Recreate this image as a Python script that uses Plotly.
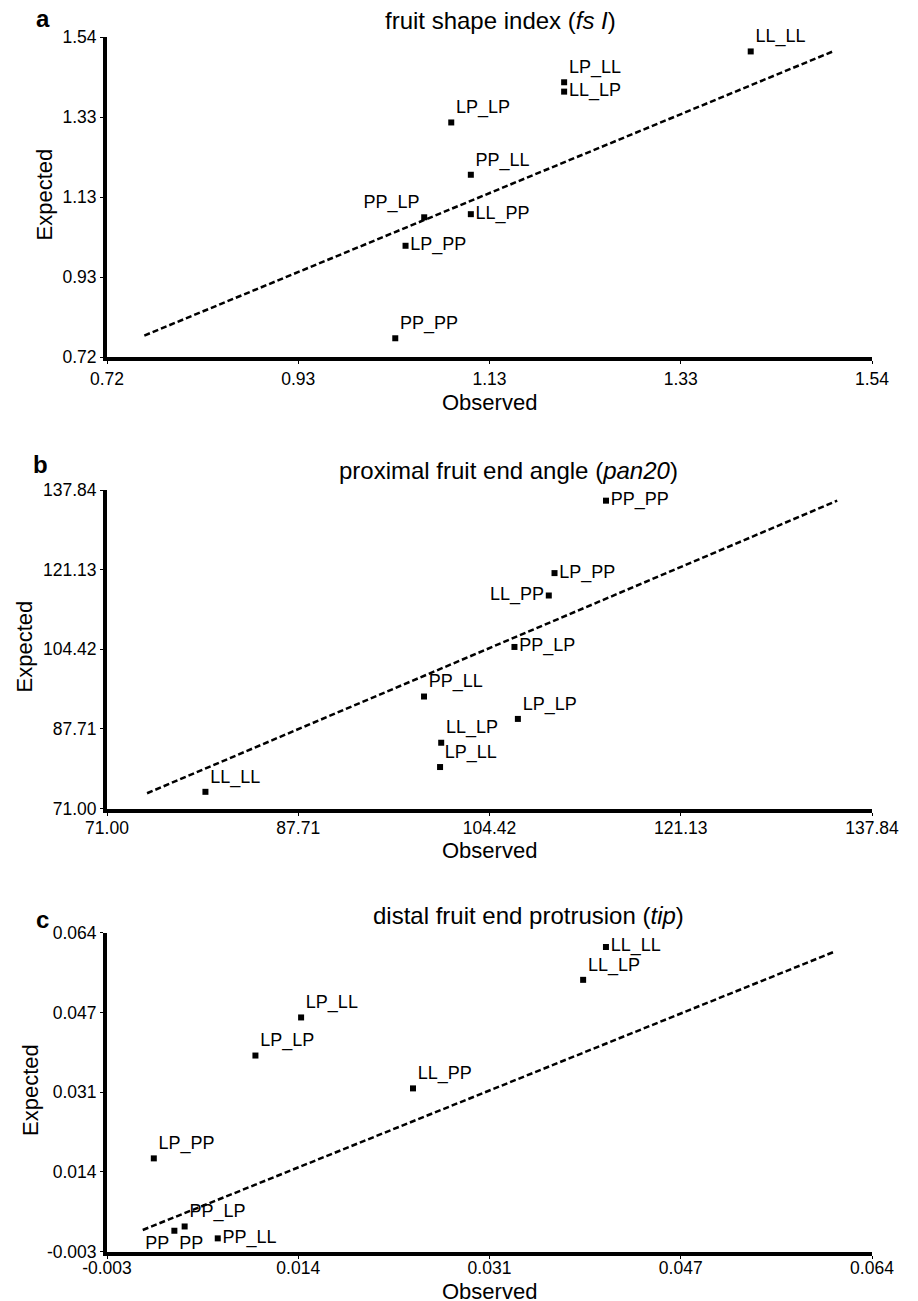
import plotly.graph_objects as go

FONT = "Liberation Sans, Arial, sans-serif"
W, H = 918, 1301
PAGE_OFFSET = 8  # default body margin of the html page

# ---------------- data ----------------
# panel a: fruit shape index
genotypes_a = ["PP_PP", "PP_LP", "LP_PP", "LP_LP", "PP_LL", "LL_PP", "LP_LL", "LL_LP", "LL_LL"]
observed_a = [1.029, 1.060, 1.040, 1.089, 1.110, 1.110, 1.210, 1.210, 1.410]
expected_a = [0.768, 1.078, 1.005, 1.321, 1.187, 1.086, 1.424, 1.400, 1.503]
tickvals_a = [0.72, 0.925, 1.13, 1.335, 1.54]
ticktext_a = ["0.72", "0.93", "1.13", "1.33", "1.54"]
line_obs_a = [0.760, 1.498]
line_exp_a = [0.775, 1.503]

# panel b: proximal fruit end angle
genotypes_b = ["LL_LL", "PP_LL", "LL_LP", "LP_LL", "LP_LP", "PP_LP", "LL_PP", "LP_PP", "PP_PP"]
observed_b = [79.6, 98.7, 100.2, 100.1, 106.9, 106.6, 109.6, 110.1, 114.6]
expected_b = [74.5, 94.5, 84.8, 79.7, 89.8, 104.9, 115.7, 120.4, 135.6]
tickvals_b = [71.00, 87.71, 104.42, 121.13, 137.84]
ticktext_b = ["71.00", "87.71", "104.42", "121.13", "137.84"]
line_obs_b = [74.5, 134.8]
line_exp_b = [74.2, 135.6]

# panel c: distal fruit end protrusion
genotypes_c = ["LP_PP", "PP_PP", "PP_LP", "PP_LL", "LP_LP", "LP_LL", "LL_PP", "LL_LP", "LL_LL"]
observed_c = [0.0011, 0.0029, 0.0038, 0.0067, 0.0100, 0.0140, 0.0238, 0.0387, 0.0407]
expected_c = [0.0166, 0.0014, 0.0023, -0.0002, 0.0382, 0.0462, 0.0313, 0.0541, 0.0610]
tickvals_c = [-0.003, 0.01375, 0.0305, 0.04725, 0.064]
ticktext_c = ["-0.003", "0.014", "0.031", "0.047", "0.064"]
line_obs_c = [0.00013, 0.0607]
line_exp_c = [0.00156, 0.0600]

titles = ["fruit shape index (<i>fs I</i>)",
          "proximal fruit end angle (<i>pan20</i>)",
          "distal fruit end protrusion (<i>tip</i>)"]
panel_letters = ["a", "b", "c"]

# ---------------- label placement (style) ----------------
pos_a = {"PP_PP": "top right", "PP_LP": "top left", "LP_PP": "middle right",
         "LP_LP": "top right", "PP_LL": "top right", "LL_PP": "middle right",
         "LP_LL": "top right", "LL_LP": "middle right", "LL_LL": "top right"}
pos_b = {"LL_LL": "top right", "PP_LL": "top right", "LL_LP": "top right",
         "LP_LL": "top right", "LP_LP": "top right", "PP_LP": "middle right",
         "LL_PP": "middle left", "LP_PP": "middle right", "PP_PP": "middle right"}
pos_c = {"LP_PP": "top right", "PP_PP": "bottom center", "PP_LP": "top right",
         "PP_LL": "middle right", "LP_LP": "top right", "LP_LL": "top right",
         "LL_PP": "top right", "LL_LP": "top right", "LL_LL": "middle right"}


def px_x(p):
    return (p - PAGE_OFFSET) / W


def px_y(p):
    return 1 - (p - PAGE_OFFSET) / H


x_dom = [px_x(107), px_x(872)]
y_doms = [[px_y(357), px_y(37)], [px_y(808.5), px_y(490)], [px_y(1251.7), px_y(932.7)]]
x_label_standoff = [0, -3, -6]

panels = [
    (genotypes_a, observed_a, expected_a, tickvals_a, ticktext_a, line_obs_a, line_exp_a, pos_a),
    (genotypes_b, observed_b, expected_b, tickvals_b, ticktext_b, line_obs_b, line_exp_b, pos_b),
    (genotypes_c, observed_c, expected_c, tickvals_c, ticktext_c, line_obs_c, line_exp_c, pos_c),
]

fig = go.Figure()
for i, (gen, obs, exp, tv, tt, lo, le, pos) in enumerate(panels):
    n = "" if i == 0 else str(i + 1)
    xa, ya = "x" + n, "y" + n
    fig.add_trace(go.Scatter(
        x=lo, y=le, mode="lines", xaxis=xa, yaxis=ya,
        line=dict(color="black", width=2.5, dash="6px,3px"),
        hoverinfo="skip", showlegend=False))
    fig.add_trace(go.Scatter(
        x=obs, y=exp, mode="markers+text", xaxis=xa, yaxis=ya,
        text=gen, textposition=[pos[g] for g in gen],
        textfont=dict(family=FONT, size=18, color="black"),
        marker=dict(symbol="square", size=6, color="black"),
        cliponaxis=False, showlegend=False))
    axis_common = dict(
        showgrid=False, zeroline=False, showline=True, linecolor="black",
        linewidth=4, ticks="outside", ticklen=3, tickwidth=1, tickcolor="black",
        tickfont=dict(family=FONT, size=17.5, color="black"),
        tickmode="array", tickvals=tv, ticktext=tt, range=[tv[0], tv[-1]],
        automargin=False, layer="above traces", mirror=False)
    fig.layout["xaxis" + n] = dict(axis_common, domain=x_dom, anchor=ya,
                                   ticklabelstandoff=x_label_standoff[i])
    fig.layout["yaxis" + n] = dict(axis_common, domain=y_doms[i], anchor=xa)

fig.update_xaxes(showline=True, linewidth=4, linecolor="black")
fig.update_yaxes(showline=True, linewidth=4, linecolor="black")

annotations = []
title_pos = [(500, 21), (508, 470), (528, 915)]
letter_pos = [(42.5, 19), (40.5, 465), (42, 919)]
obs_pos = [(490, 402), (490, 850), (490, 1291)]
exp_pos = [(43.5, 195), (23.5, 647), (30, 1090)]
for i in range(3):
    annotations.append(dict(text=titles[i], x=px_x(title_pos[i][0]), y=px_y(title_pos[i][1]),
                            xref="paper", yref="paper", showarrow=False,
                            xanchor="center", yanchor="middle",
                            font=dict(family=FONT, size=24, color="black")))
    annotations.append(dict(text="<b>" + panel_letters[i] + "</b>",
                            x=px_x(letter_pos[i][0]), y=px_y(letter_pos[i][1]),
                            xref="paper", yref="paper", showarrow=False,
                            xanchor="center", yanchor="middle",
                            font=dict(family=FONT, size=24, color="black")))
    annotations.append(dict(text="Observed", x=px_x(obs_pos[i][0]), y=px_y(obs_pos[i][1]),
                            xref="paper", yref="paper", showarrow=False,
                            xanchor="center", yanchor="middle",
                            font=dict(family=FONT, size=22, color="black")))
    annotations.append(dict(text="Expected", x=px_x(exp_pos[i][0]), y=px_y(exp_pos[i][1]),
                            xref="paper", yref="paper", showarrow=False, textangle=-90,
                            xanchor="center", yanchor="middle",
                            font=dict(family=FONT, size=22, color="black")))

fig.update_layout(
    template="none",
    width=W, height=H,
    margin=dict(l=0, r=0, t=0, b=0, pad=0, autoexpand=False),
    paper_bgcolor="white", plot_bgcolor="white",
    font=dict(family=FONT, color="black"),
    showlegend=False,
    annotations=annotations)

fig.write_html("out.html")
